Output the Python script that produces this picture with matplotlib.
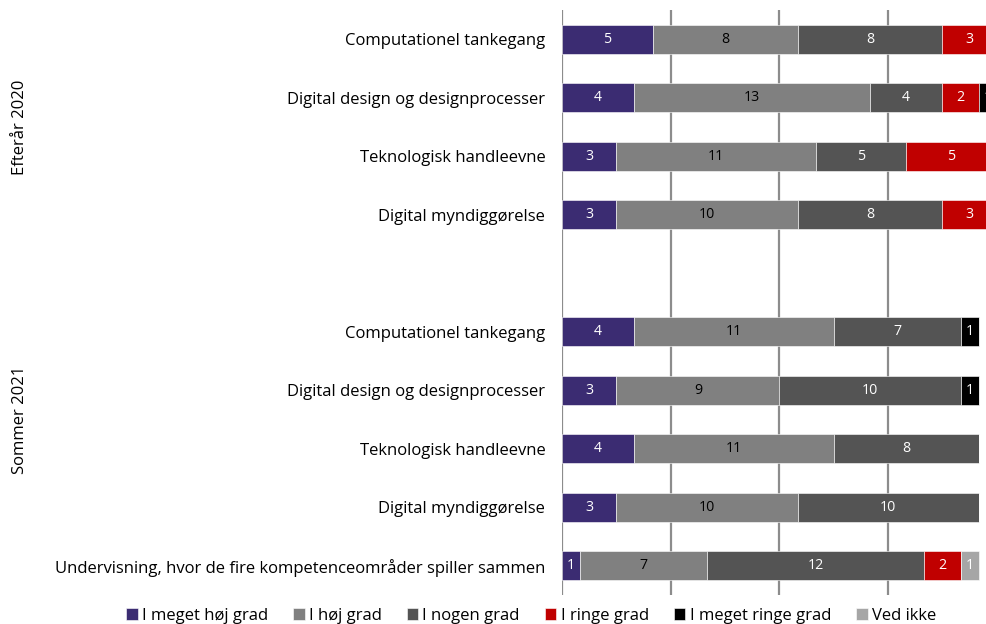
import matplotlib
matplotlib.use("Agg")
import matplotlib.pyplot as plt

plt.rcParams['font.family'] = ['Open Sans', 'DejaVu Sans']

categories = ["Computationel tankegang", "Digital design og designprocesser",
              "Teknologisk handleevne", "Digital myndiggørelse",
              "Computationel tankegang", "Digital design og designprocesser",
              "Teknologisk handleevne", "Digital myndiggørelse",
              "Undervisning, hvor de fire kompetenceområder spiller sammen"]
groups = ["Efterår 2020", "Sommer 2021"]
series_names = ["I meget høj grad", "I høj grad", "I nogen grad",
                "I ringe grad", "I meget ringe grad", "Ved ikke"]

meget_hoej = [5, 4, 3, 3, 4, 3, 4, 3, 1]
hoej = [8, 13, 11, 10, 11, 9, 11, 10, 7]
nogen = [8, 4, 5, 8, 7, 10, 8, 10, 12]
ringe = [3, 2, 5, 3, 0, 0, 0, 0, 2]
meget_ringe = [0, 1, 0, 0, 1, 1, 0, 0, 0]
ved_ikke = [0, 0, 0, 0, 0, 0, 0, 0, 1]

colors = ['#3b2c72', '#808080', '#545454', '#c00000', '#000000', '#a6a6a6']
text_colors = ['white', 'black', 'white', 'white', 'white', 'white']

# row positions, one empty row between the two groups
ypos = [0, 1, 2, 3, 5, 6, 7, 8, 9]

fig = plt.figure(figsize=(9.87, 6.24), dpi=100)
ax = fig.add_axes([562 / 987, 29 / 624, 434.8 / 987, 585 / 624])

left = [0] * len(ypos)
all_series = [meget_hoej, hoej, nogen, ringe, meget_ringe, ved_ikke]
for vals, name, col, tcol in zip(all_series, series_names, colors, text_colors):
    bars = ax.barh(ypos, vals, left=left, height=0.5, color=col, label=name,
                   edgecolor='white', linewidth=0.4, zorder=3)
    labels = [str(v) if v > 0 else "" for v in vals]
    ax.bar_label(bars, labels=labels, label_type='center', color=tcol,
                 fontsize=10.2, zorder=4)
    left = [a + b for a, b in zip(left, vals)]

ax.set_xlim(0, 24)
ax.set_ylim(9.5, -0.5)
ax.set_xticks([0, 6, 12, 18, 24])
ax.xaxis.grid(True, color='#8c8c8c', linewidth=1.6, zorder=0)
ax.set_axisbelow(True)
ax.tick_params(axis='x', bottom=False, labelbottom=False)
ax.set_yticks(ypos)
ax.set_yticklabels(categories, fontsize=12)
ax.tick_params(axis='y', length=0, pad=12)
for s in ax.spines.values():
    s.set_visible(False)

fig.text(20 / 987, 1 - 127 / 624, groups[0], rotation=90, ha='center',
         va='center', fontsize=12)
fig.text(20 / 987, 1 - 420 / 624, groups[1], rotation=90, ha='center',
         va='center', fontsize=12)

fig.legend(loc='center', bbox_to_anchor=(531 / 987, 1 - 616 / 624), ncol=6,
           frameon=False, fontsize=12, handlelength=0.7, handleheight=0.7,
           handletextpad=0.25, columnspacing=1.5, borderaxespad=0)

fig.savefig("out.png", dpi=100)
